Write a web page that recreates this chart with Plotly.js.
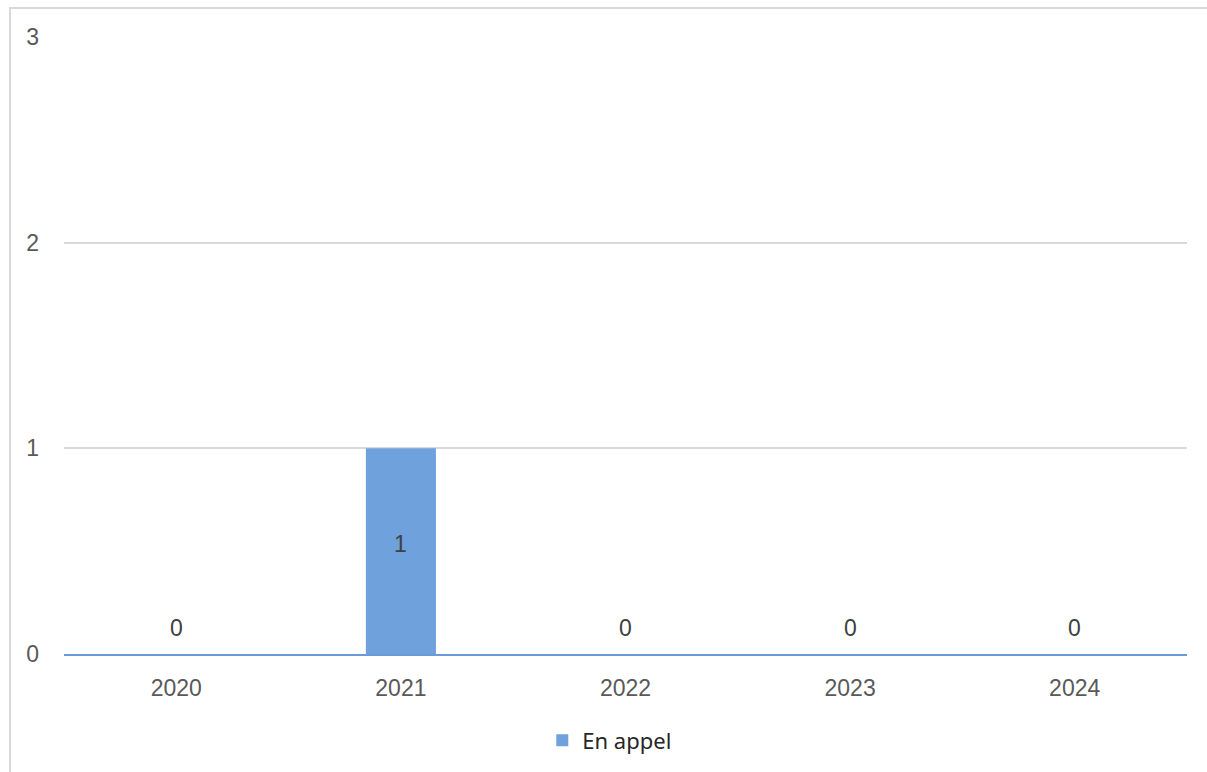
<!DOCTYPE html>
<html>
<head>
<meta charset="utf-8">
<script src="https://cdn.plot.ly/plotly-3.0.1.min.js"></script>
<style>
  html, body { margin: 0; padding: 0; background: #ffffff; }
  #wrap { position: relative; width: 1207px; height: 772px; overflow: hidden; }
  #chart { width: 1207px; height: 772px; }
  #frame { position: absolute; left: 9px; top: 7px; width: 1300px; height: 900px;
           border: 2px solid #d9d9d9; pointer-events: none; box-sizing: border-box; }
</style>
</head>
<body>
<div id="wrap">
  <div id="chart"></div>
  <div id="frame"></div>
</div>
<script>
const years = ['2020', '2021', '2022', '2023', '2024'];
const enAppel = [0, 1, 0, 0, 0];
const seriesName = 'En appel';
const yTicks = [0, 1, 2, 3];

const labelFont = { family: 'Liberation Sans, Arial, sans-serif', size: 23, color: '#404040' };
const tickFont = { family: 'Liberation Sans, Arial, sans-serif', size: 23, color: '#595959' };

const trace = {
  type: 'bar',
  x: years,
  y: enAppel,
  name: seriesName,
  marker: { color: '#6fa1dc' },
  hoverinfo: 'x+y'
};

// category index positions for labels
const annotations = years.map((yr, i) => {
  const v = enAppel[i];
  return {
    x: i,
    y: v > 0 ? v / 2 : 0,
    xref: 'x', yref: 'y',
    text: String(v),
    showarrow: false,
    xanchor: 'center',
    yanchor: 'middle',
    yshift: v > 0 ? 7 : 26,
    font: labelFont
  };
});

const layout = {
  width: 1207,
  height: 772,
  margin: { l: 64, r: 20, t: 37, b: 118, autoexpand: false },
  paper_bgcolor: '#ffffff',
  plot_bgcolor: '#ffffff',
  bargap: 0.688,
  showlegend: true,
  annotations: annotations,
  legend: {
    orientation: 'h',
    xref: 'paper',
    x: 0.486, xanchor: 'center',
    yref: 'container',
    y: 0.041, yanchor: 'middle',
    font: { family: 'Noto Sans, Open Sans, sans-serif', size: 22, color: '#262626' },
    itemwidth: 30
  },
  xaxis: {
    type: 'category',
    range: [-0.5, years.length - 0.5],
    automargin: false,
    showgrid: false,
    showline: true,
    linecolor: '#6a9bd8',
    linewidth: 2,
    ticks: '',
    ticklabelstandoff: 12,
    tickfont: tickFont
  },
  yaxis: {
    range: [0, 3],
    automargin: false,
    tickvals: yTicks,
    ticktext: yTicks.map(String),
    showgrid: true,
    gridcolor: '#d9d9d9',
    gridwidth: 2,
    zeroline: false,
    showline: false,
    ticks: '',
    ticklabelstandoff: 24,
    tickfont: tickFont
  }
};

Plotly.newPlot('chart', [trace], layout, { displayModeBar: false, staticPlot: true });
</script>
</body>
</html>
